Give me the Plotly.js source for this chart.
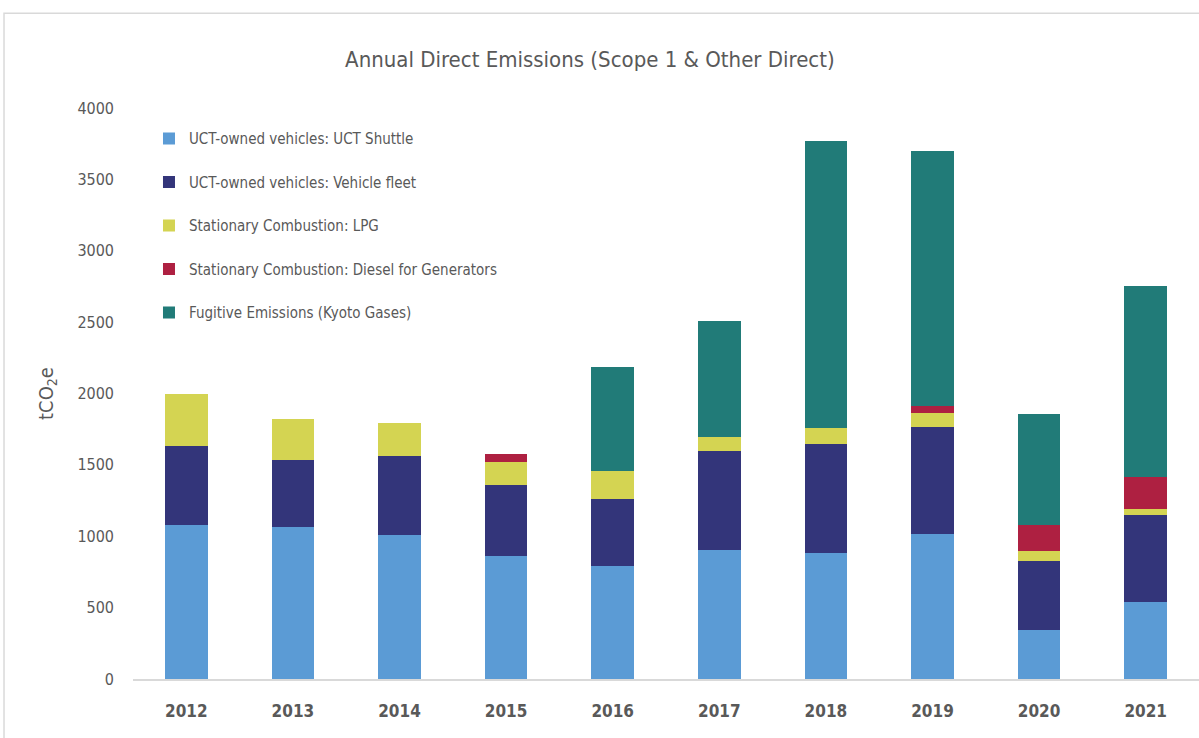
<!DOCTYPE html>
<html>
<head>
<meta charset="utf-8">
<script src="https://cdn.plot.ly/plotly-3.0.1.min.js"></script>
<style>
  html, body { margin: 0; padding: 0; background: #fff; }
  #chart { width: 1199px; height: 738px; }
</style>
</head>
<body>
<div id="chart"></div>
<script>
// values (tCO2e)
var years = ['2012', '2013', '2014', '2015', '2016', '2017', '2018', '2019', '2020', '2021'];
var shuttle  = [1076, 1064, 1006, 859, 789, 901, 885, 1017, 344, 540];
var fleet    = [555, 467, 553, 501, 473, 695, 764, 750, 485, 612];
var lpg      = [369, 289, 231, 161, 192, 100, 107, 96, 71, 41];
var diesel   = [0, 0, 0, 54, 0, 0, 0, 49, 178, 222];
var fugitive = [0, 0, 0, 0, 732, 810, 2011, 1789, 780, 1341];

var names = [
  'UCT-owned vehicles: UCT Shuttle',
  'UCT-owned vehicles: Vehicle fleet',
  'Stationary Combustion: LPG',
  'Stationary Combustion: Diesel for Generators',
  'Fugitive Emissions (Kyoto Gases)'
];
var colors = ['#5B9BD5', '#33357A', '#D4D452', '#AE2041', '#217B78'];
var series = [shuttle, fleet, lpg, diesel, fugitive];

var font = '"DejaVu Sans Condensed", "Liberation Sans Narrow", "Roboto", sans-serif';

var data = series.map(function (vals, i) {
  return {
    type: 'bar',
    name: names[i],
    x: years,
    y: vals,
    legendgroup: 'g' + i,
    marker: { color: colors[i] },
    hoverinfo: 'x+y+name'
  };
});

var layout = {
  width: 1199,
  height: 738,
  barmode: 'stack',
  bargap: 0.6,
  paper_bgcolor: '#fff',
  plot_bgcolor: '#fff',
  margin: { l: 133, r: 0, t: 108, b: 59 },
  font: { family: font, color: '#595959' },
  title: {
    text: 'Annual Direct Emissions (Scope 1 & Other Direct)',
    font: { family: font, size: 22, color: '#595959' },
    x: 0.492,
    xanchor: 'center',
    y: 0.919,
    yanchor: 'middle'
  },
  showlegend: true,
  legend: {
    x: 0.015,
    y: 0.975,
    xanchor: 'left',
    yanchor: 'top',
    traceorder: 'grouped',
    tracegroupgap: 21,
    itemwidth: 30,
    font: { family: font, size: 15, color: '#595959' },
    bgcolor: 'rgba(0,0,0,0)'
  },
  xaxis: {
    type: 'category',
    showgrid: false,
    showline: true,
    linecolor: '#D9D9D9',
    linewidth: 2,
    ticks: '',
    ticklabelstandoff: 16,
    tickfont: { family: font, size: 17, color: '#595959', weight: 'bold' },
    automargin: false
  },
  yaxis: {
    range: [0, 4000],
    dtick: 500,
    showgrid: false,
    zeroline: false,
    showline: false,
    ticks: '',
    ticklabelstandoff: 18,
    tickfont: { family: font, size: 16, color: '#595959' },
    automargin: false,
    title: {
      text: 'tCO<sub>2</sub>e',
      font: { family: font, size: 20, color: '#595959' },
      standoff: 18
    }
  },
  shapes: [
    {
      type: 'rect', xref: 'paper', yref: 'paper',
      x0: -0.121, x1: 1.05, y0: -0.2, y1: 1.166,
      line: { color: '#D9D9D9', width: 1.5 },
      fillcolor: 'rgba(0,0,0,0)',
      layer: 'below'
    }
  ]
};

Plotly.newPlot('chart', data, layout, { displayModeBar: false, staticPlot: true });
</script>
</body>
</html>
